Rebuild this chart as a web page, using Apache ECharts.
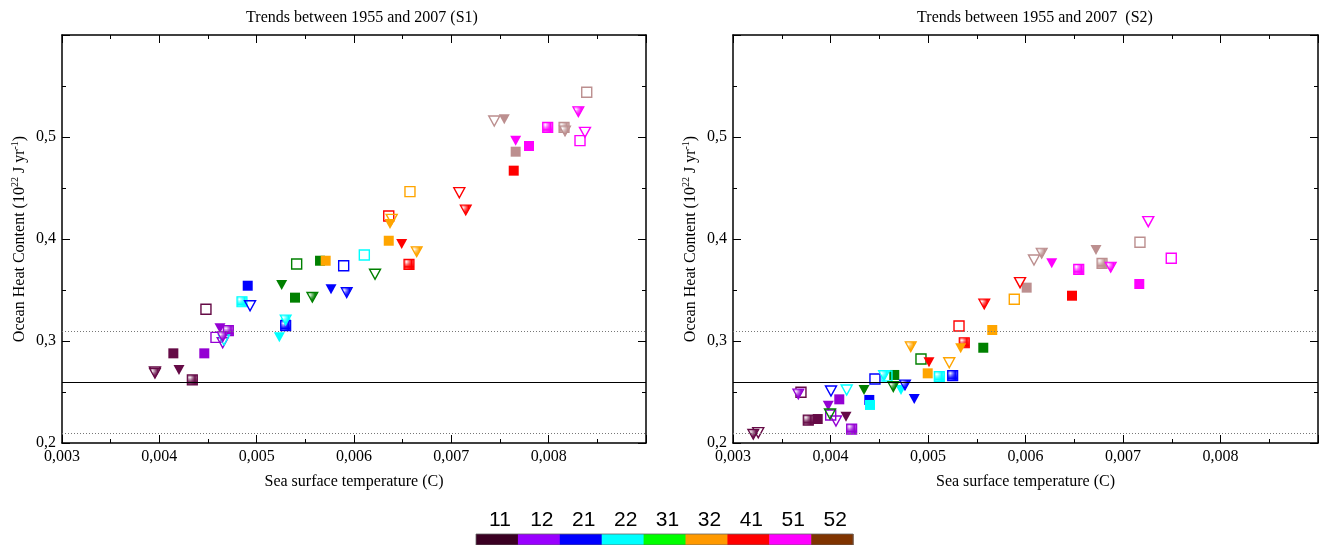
<!DOCTYPE html>
<html>
<head>
<meta charset="utf-8">
<script src="https://cdn.jsdelivr.net/npm/echarts@6/dist/echarts.min.js"></script>
<style>
  html, body { margin: 0; padding: 0; background: #fff; }
  #chart { width: 1322px; height: 545px; }
</style>
</head>
<body>
<div id="chart"></div>
<script>
// Region codes and their colours
const REGIONS = ['11', '12', '21', '22', '31', '32', '41', '51', '52'];
const MARKER_COLORS = ['#650a46', '#9400d3', '#0000ff', '#00ffff', '#008000', '#ffa500', '#ff0000', '#ff00ff', '#bc8f8f'];
const LEGEND_COLORS = ['#3a0022', '#9900ff', '#0000ff', '#00ffff', '#00ff00', '#ff9900', '#ff0000', '#ff00ff', '#7f3300'];
// regions whose dotted squares print as plain solid squares
const SOLID_DOTTED_SQUARES = ['31', '32'];

// Axis ticks
const X_TICKS = [0.003, 0.004, 0.005, 0.006, 0.007, 0.008, 0.009];
const Y_TICKS = [0.2, 0.3, 0.4, 0.5, 0.6];

// Reference level and its spread
const OHC_MEAN = 0.26;
const OHC_UPPER = 0.3055;
const OHC_LOWER = 0.2128;

// S1 trends: [sea surface temperature, ocean heat content], one pair per region (REGIONS order)
const S1_FILLED_SQUARE = [[0.004144, 0.2879], [0.004462, 0.2879], [0.004908, 0.3542], [0.005298, 0.3170], [0.005394, 0.3425], [0.006357, 0.3983], [0.007641, 0.4670], [0.007798, 0.4912], [0.007661, 0.4856]];
const S1_OPEN_SQUARE = [[0.004479, 0.3311], [0.004582, 0.3036], [0.005894, 0.3738], [0.006106, 0.3843], [0.005411, 0.3755], [0.006575, 0.4464], [0.006357, 0.4225], [0.008322, 0.4964], [0.008391, 0.5438]];
const S1_DOTTED_SQUARE = [[0.004339, 0.2618], [0.004709, 0.3101], [0.005298, 0.3150], [0.004849, 0.3385], [0.005651, 0.3787], [0.005709, 0.3787], [0.006565, 0.3752], [0.007990, 0.5095], [0.008158, 0.5095]];
const S1_FILLED_TRIANGLE = [[0.004202, 0.2716], [0.004623, 0.3125], [0.005764, 0.3507], [0.005233, 0.3036], [0.005257, 0.3549], [0.006370, 0.4147], [0.006490, 0.3951], [0.007661, 0.4964], [0.007544, 0.5174]];
const S1_OPEN_TRIANGLE = [[0.003955, 0.2696], [0.004651, 0.2983], [0.004932, 0.3346], [0.004664, 0.3010], [0.006216, 0.3654], [0.006387, 0.4193], [0.007082, 0.4454], [0.008373, 0.5046], [0.007441, 0.5157]];
const S1_DOTTED_TRIANGLE = [[0.003955, 0.2683], [0.004651, 0.3042], [0.005925, 0.3474], [0.005298, 0.3206], [0.005572, 0.3428], [0.006644, 0.3875], [0.007148, 0.4284], [0.008305, 0.5248], [0.008168, 0.5059]];

// S2 trends
const S2_FILLED_SQUARE = [[0.003869, 0.2235], [0.004090, 0.2428], [0.004398, 0.2422], [0.004405, 0.2373], [0.004654, 0.2667], [0.004997, 0.2683], [0.006477, 0.3444], [0.007167, 0.3559], [0.006012, 0.3523]];
const S2_OPEN_SQUARE = [[0.003697, 0.2497], [0.004002, 0.2275], [0.004456, 0.2627], [0.004579, 0.2657], [0.004928, 0.2824], [0.005885, 0.3409], [0.005318, 0.3147], [0.007495, 0.3811], [0.007174, 0.3968]];
const S2_DOTTED_SQUARE = [[0.003772, 0.2225], [0.004217, 0.2137], [0.005253, 0.2660], [0.005116, 0.2650], [0.005567, 0.2934], [0.005659, 0.3108], [0.005372, 0.2983], [0.006546, 0.3703], [0.006785, 0.3762]];
const S2_FILLED_TRIANGLE = [[0.004159, 0.2258], [0.003977, 0.2366], [0.004859, 0.2431], [0.004723, 0.2520], [0.004344, 0.2520], [0.005335, 0.2928], [0.005010, 0.2791], [0.006269, 0.3762], [0.006723, 0.3892]];
const S2_OPEN_TRIANGLE = [[0.003259, 0.2101], [0.004056, 0.2216], [0.004005, 0.2510], [0.004166, 0.2520], [0.003995, 0.2284], [0.005218, 0.2787], [0.005944, 0.3572], [0.007259, 0.4170], [0.006087, 0.3794]];
const S2_DOTTED_TRIANGLE = [[0.003208, 0.2085], [0.003670, 0.2480], [0.004764, 0.2569], [0.004549, 0.2660], [0.004644, 0.2552], [0.004823, 0.2944], [0.005577, 0.3363], [0.006874, 0.3723], [0.006166, 0.3860]];

const SERIF = '"Liberation Serif", "DejaVu Serif", serif';
const SQUARE = 'rect';
const TRIANGLE = 'path://M0,0L10,0L5,9Z';

// small repeating pattern: region colour with a grid of white dots
function dottedPattern(color) {
  const c = document.createElement('canvas');
  c.width = 2; c.height = 2;
  const ctx = c.getContext('2d');
  ctx.fillStyle = color;
  ctx.fillRect(0, 0, 2, 2);
  ctx.fillStyle = '#ffffff';
  ctx.fillRect(1, 1, 1, 1);
  return { image: c, repeat: 'repeat' };
}

function markerSeries(points, gridIndex, symbol, fill) {
  const isTri = symbol === TRIANGLE;
  return {
    type: 'scatter',
    xAxisIndex: gridIndex * 2,
    yAxisIndex: gridIndex * 2,
    symbol: symbol,
    symbolSize: isTri ? [11, 10] : [10, 10],
    silent: true,
    animation: false,
    z: 3,
    data: points.map((p, i) => {
      const col = MARKER_COLORS[i];
      let style;
      const solidDotted = fill === 'dotted' && !isTri && SOLID_DOTTED_SQUARES.includes(REGIONS[i]);
      if (fill === 'filled' || solidDotted) style = { color: col, borderWidth: 0, opacity: 1 };
      else if (fill === 'open') style = { color: 'rgba(255,255,255,0)', borderColor: col, borderWidth: 1.4, opacity: 1 };
      else style = { color: dottedPattern(col), borderColor: col, borderWidth: 1.2, opacity: 1 };
      return { value: p, itemStyle: style };
    })
  };
}

function levelSeries(gridIndex) {
  return {
    type: 'line',
    xAxisIndex: gridIndex * 2,
    yAxisIndex: gridIndex * 2,
    data: [],
    silent: true,
    animation: false,
    markLine: {
      silent: true,
      symbol: 'none',
      label: { show: false },
      animation: false,
      data: [
        { yAxis: OHC_MEAN, lineStyle: { color: '#000', width: 1.2, type: 'solid' } },
        { yAxis: OHC_UPPER, lineStyle: { color: '#777', width: 1, type: [1, 2] } },
        { yAxis: OHC_LOWER, lineStyle: { color: '#777', width: 1, type: [1, 2] } }
      ]
    }
  };
}

const xMax = X_TICKS[X_TICKS.length - 1];
const yMax = Y_TICKS[Y_TICKS.length - 1];
const fmtX = v => (v > xMax - 1e-9 ? '' : v.toFixed(3).replace('.', ','));
const fmtY = v => (v > yMax - 1e-9 ? '' : v.toFixed(1).replace('.', ','));

function xAxes(gridIndex) {
  const base = {
    gridIndex: gridIndex,
    type: 'value',
    min: X_TICKS[0],
    max: xMax,
    interval: X_TICKS[1] - X_TICKS[0],
    splitLine: { show: false },
    axisLine: { show: true, onZero: false, lineStyle: { color: '#000', width: 1.5 } },
    axisTick: { show: true, inside: true, length: 8, lineStyle: { color: '#000', width: 1 } },
    minorTick: { show: true, splitNumber: 2, length: 4, lineStyle: { color: '#000', width: 1 } }
  };
  return [
    Object.assign({}, base, {
      position: 'bottom',
      name: 'Sea surface temperature (C)',
      nameLocation: 'middle',
      nameGap: 31,
      nameTextStyle: { fontFamily: SERIF, fontSize: 16, color: '#000' },
      axisLabel: { show: true, margin: 6, fontFamily: SERIF, fontSize: 16, color: '#000', formatter: fmtX }
    }),
    Object.assign({}, base, { position: 'top', axisLabel: { show: false } })
  ];
}

function yAxes(gridIndex) {
  const base = {
    gridIndex: gridIndex,
    type: 'value',
    min: Y_TICKS[0],
    max: yMax,
    interval: Y_TICKS[1] - Y_TICKS[0],
    splitLine: { show: false },
    axisLine: { show: true, onZero: false, lineStyle: { color: '#000', width: 1.5 } },
    axisTick: { show: true, inside: true, length: 8, lineStyle: { color: '#000', width: 1 } },
    minorTick: { show: true, splitNumber: 2, length: 4, lineStyle: { color: '#000', width: 1 } }
  };
  return [
    Object.assign({}, base, {
      position: 'left',
      name: 'Ocean Heat Content (10{sup|22} J yr{sup|-1})',
      nameLocation: 'middle',
      nameRotate: 90,
      nameGap: 32,
      nameTextStyle: {
        fontFamily: SERIF, fontSize: 16, color: '#000', lineHeight: 20,
        rich: { sup: { fontFamily: SERIF, fontSize: 10, color: '#000', verticalAlign: 'top', lineHeight: 20 } }
      },
      axisLabel: { show: true, margin: 6, fontFamily: SERIF, fontSize: 16, color: '#000', formatter: fmtY }
    }),
    Object.assign({}, base, { position: 'right', axisLabel: { show: false } })
  ];
}

const panels = [
  [S1_FILLED_SQUARE, S1_OPEN_SQUARE, S1_DOTTED_SQUARE, S1_FILLED_TRIANGLE, S1_OPEN_TRIANGLE, S1_DOTTED_TRIANGLE],
  [S2_FILLED_SQUARE, S2_OPEN_SQUARE, S2_DOTTED_SQUARE, S2_FILLED_TRIANGLE, S2_OPEN_TRIANGLE, S2_DOTTED_TRIANGLE]
];
const kinds = [
  [SQUARE, 'filled'], [SQUARE, 'open'], [SQUARE, 'dotted'],
  [TRIANGLE, 'filled'], [TRIANGLE, 'open'], [TRIANGLE, 'dotted']
];

const series = [];
panels.forEach((sets, g) => {
  series.push(levelSeries(g));
  sets.forEach((pts, k) => series.push(markerSeries(pts, g, kinds[k][0], kinds[k][1])));
});

// colour bar legend under the plots
const BAR_LEFT = 476, BAR_TOP = 534, BAR_W = 41.9, BAR_H = 11;
const legendGraphics = [];
REGIONS.forEach((code, i) => {
  legendGraphics.push({
    type: 'rect', silent: true,
    shape: { x: BAR_LEFT + i * BAR_W, y: BAR_TOP, width: BAR_W + 0.5, height: BAR_H },
    style: { fill: LEGEND_COLORS[i] }
  });
  legendGraphics.push({
    type: 'text', silent: true,
    x: BAR_LEFT + i * BAR_W + BAR_W / 2 + 3, y: 520,
    style: { text: code, fill: '#000', font: '21px "Liberation Sans", Arial, sans-serif', align: 'center', verticalAlign: 'middle' }
  });
});
legendGraphics.push({
  type: 'rect', silent: true,
  shape: { x: BAR_LEFT, y: BAR_TOP, width: BAR_W * REGIONS.length, height: BAR_H },
  style: { fill: 'none', stroke: '#666', lineWidth: 0.8 }
});

const chart = echarts.init(document.getElementById('chart'), null, { renderer: 'canvas' });
chart.setOption({
  backgroundColor: '#fff',
  animation: false,
  title: [
    { text: 'Trends between 1955 and 2007 (S1)', left: 357, top: 5, textAlign: 'center',
      textStyle: { fontFamily: SERIF, fontSize: 16, fontWeight: 'normal', color: '#000' } },
    { text: 'Trends between 1955 and 2007  (S2)', left: 1030, top: 5, textAlign: 'center',
      textStyle: { fontFamily: SERIF, fontSize: 16, fontWeight: 'normal', color: '#000' } }
  ],
  grid: [
    { left: 62, top: 35, width: 584, height: 408 },
    { left: 733, top: 35, width: 585, height: 408 }
  ],
  xAxis: [].concat(xAxes(0), xAxes(1)),
  yAxis: [].concat(yAxes(0), yAxes(1)),
  series: series,
  graphic: legendGraphics
});
</script>
</body>
</html>
